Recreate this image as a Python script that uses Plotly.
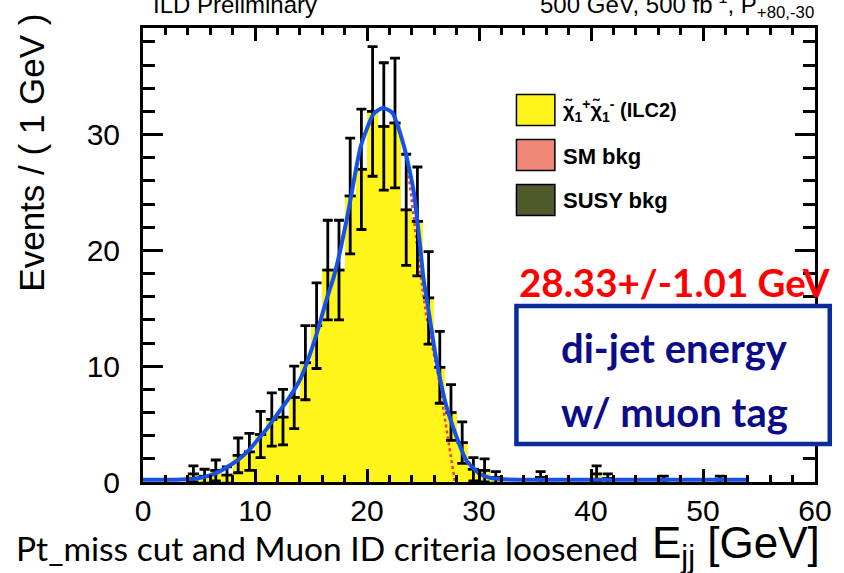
import plotly.graph_objects as go

# ---------------- data ----------------
bin_lo = list(range(0, 60))
counts = [0, 0, 0, 0, 0.7, 0.5, 1.0, 0.6, 2.3, 2.6,
          4.1, 5.4, 5.6, 7.3, 10.3, 13.5, 18.3, 18.3, 24.7, 27.0,
          32.0, 30.7, 31.0, 23.5, 22.5, 15.9, 9.9, 6.0, 3.4, 1.1,
          1.0, 0.4, 0, 0, 0, 0.4, 0, 0, 0, 0,
          0.7, 0.3, 0, 0, 0, 0, 0.2, 0, 0, 0,
          0, 0.2, 0, 0, 0, 0, 0, 0, 0, 0]
errors = [0, 0, 0, 0, 0.7, 0.6, 0.9, 0.7, 1.5, 1.6,
          2.0, 2.3, 2.4, 2.7, 3.2, 3.7, 4.3, 4.3, 5.0, 5.2,
          5.6, 5.5, 5.6, 4.8, 4.7, 4.0, 3.1, 2.4, 1.8, 1.0,
          1.0, 0.5, 0, 0, 0, 0.5, 0, 0, 0, 0,
          0.7, 0.4, 0, 0, 0, 0, 0.3, 0, 0, 0,
          0, 0.3, 0, 0, 0, 0, 0, 0, 0, 0]

fit_x = [0, 3, 4.2, 5.0, 5.9, 6.8, 7.7, 8.6, 9.5, 10.2, 10.9, 12.1, 13.0, 14.1,
         15.0, 15.6, 16.4, 17.0, 17.4, 18.3, 19.45, 20.6, 21.4, 22.25, 23.3,
         24.15, 24.75, 25.05, 25.35, 26.2, 27.1, 28.0, 28.85, 30.0, 31.2, 32.6, 34, 54]
fit_y = [0.2, 0.2, 0.25, 0.35, 0.55, 0.9, 1.4, 2.0, 2.8, 3.6, 4.4, 6.0, 7.2, 9.0,
         11.3, 13.1, 15.8, 17.6, 19.1, 23.2, 29.0, 31.8, 32.3, 31.9, 29.0,
         25.2, 20.3, 17.5, 15.7, 10.5, 6.5, 3.9, 1.9, 0.75, 0.32, 0.22, 0.2, 0.2]

edge_x = [23.6, 24.0, 24.4, 24.8, 25.3, 25.9, 26.4, 26.9, 27.3, 27.6, 27.85]
edge_y = [27.5, 24.5, 21.0, 17.8, 14.3, 11.4, 9.0, 5.8, 3.2, 1.2, 0.0]

legend_labels = ["χ̃<sub>1</sub><sup>+</sup>χ̃<sub>1</sub><sup>-</sup> (ILC2)", "SM bkg", "SUSY bkg"]
legend_sizes = [20, 22, 22]
legend_colors = ["#fff51a", "#f08877", "#4e5a2a"]

x_ticks = [0, 10, 20, 30, 40, 50, 60]
y_ticks = [0, 10, 20, 30]

# ---------------- geometry helpers (layout only) ----------------
W, H = 844, 573
L, R, T, B = 143, 825, 28, 482
def px(x):
    return (x - L) / (R - L)
def py(y):
    return (B - y) / (B - T)

fig = go.Figure()

centers = [b + 0.5 for b in bin_lo]
fig.add_trace(go.Bar(x=centers, y=counts, width=1.0,
                     marker=dict(color=legend_colors[0], line=dict(width=0)),
                     showlegend=False, hoverinfo="skip"))

fig.add_trace(go.Scatter(x=edge_x, y=edge_y, mode="lines",
                         line=dict(color="#ee3b3b", width=2.5, dash="dot"),
                         showlegend=False))

dx = [c for c, v in zip(centers, counts) if v > 0]
dy = [v for v in counts if v > 0]
de = [e for e, v in zip(errors, counts) if v > 0]
fig.add_trace(go.Scatter(x=dx, y=dy, mode="markers",
                         marker=dict(color="black", size=2),
                         error_x=dict(type="constant", value=0.5, width=0, thickness=2.8, color="black"),
                         error_y=dict(type="data", array=de, visible=True, width=5, thickness=2.8, color="black"),
                         showlegend=False))

fig.add_trace(go.Scatter(x=fit_x, y=fit_y, mode="lines",
                         line=dict(color="#1553e8", width=4, shape="spline", smoothing=0.6),
                         showlegend=False))

root_font = "Liberation Sans, Arial, sans-serif"

fig.update_layout(
    width=W, height=H,
    margin=dict(l=L, r=W - R, t=T, b=H - B),
    paper_bgcolor="white", plot_bgcolor="white",
    bargap=0,
    xaxis=dict(range=[0, 60], tickvals=x_ticks, ticks="inside", ticklen=13, tickwidth=2.5,
               tickcolor="black", showline=True, linewidth=3, linecolor="black", mirror="allticks",
               showgrid=False, zeroline=False,
               tickfont=dict(family=root_font, size=30, color="black"),
               minor=dict(dtick=2, ticks="inside", ticklen=7, tickwidth=2.5, tickcolor="black", showgrid=False)),
    yaxis=dict(range=[0, 39.2], tickvals=y_ticks, ticks="inside", ticklen=20, tickwidth=2.5,
               tickcolor="black", showline=True, linewidth=3, linecolor="black", mirror="allticks",
               showgrid=False, zeroline=False, ticklabelstandoff=14,
               tickfont=dict(family=root_font, size=30, color="black"),
               minor=dict(dtick=2, ticks="inside", ticklen=12, tickwidth=2.5, tickcolor="black", showgrid=False)),
)

ann = []
# y title
ann.append(dict(text="Events / ( 1 GeV )", x=px(29), y=py(153), xref="paper", yref="paper",
                xanchor="center", yanchor="middle",
                textangle=-90, showarrow=False, font=dict(family=root_font, size=35, color="black")))
# x title
ann.append(dict(text="E<sub>jj</sub> [GeV]", x=px(832), y=py(546), xref="paper", yref="paper",
                xanchor="right", yanchor="middle", showarrow=False,
                font=dict(family=root_font, size=44, color="black")))
# header
ann.append(dict(text="ILD Preliminary", x=px(151), y=py(4), xref="paper", yref="paper",
                xanchor="left", yanchor="middle", showarrow=False,
                font=dict(family=root_font, size=24, color="black")))
ann.append(dict(text="500 GeV, 500 fb<sup>-1</sup>, P<sub>+80,-30</sub>", x=px(544), y=py(5),
                xref="paper", yref="paper", xanchor="left", yanchor="middle", showarrow=False,
                font=dict(family=root_font, size=24, color="black")))
# legend
shapes = []
leg_y = [110, 155, 200]
for lab, col, yy, fs in zip(legend_labels, legend_colors, leg_y, legend_sizes):
    shapes.append(dict(type="rect", xref="paper", yref="paper",
                       x0=px(522), x1=px(561), y0=py(yy - 15.5), y1=py(yy + 15.5),
                       fillcolor=col, line=dict(color="black", width=1.5)))
    ann.append(dict(text=lab, x=px(567), y=py(yy + 1), xref="paper", yref="paper",
                    xanchor="left", yanchor="middle", showarrow=False,
                    font=dict(family=root_font, size=fs, color="black", weight="bold")))
# fit result
ann.append(dict(text="28.33+/-1.01 GeV", x=px(682), y=py(282), xref="paper", yref="paper",
                xanchor="center", yanchor="middle", showarrow=False,
                font=dict(family="Lato, sans-serif", size=38.5, color="#ff0000", weight="bold")))
# box
shapes.append(dict(type="rect", xref="paper", yref="paper",
                   x0=px(522), x1=px(840), y0=py(444), y1=py(306),
                   fillcolor="white", line=dict(color="#0b2b9c", width=4.5)))
ann.append(dict(text="di-jet energy", x=px(682), y=py(348), xref="paper", yref="paper",
                xanchor="center", yanchor="middle", showarrow=False,
                font=dict(family="Lato, sans-serif", size=40, color="#0c0c8a", weight="bold")))
ann.append(dict(text="w/ muon tag", x=px(682), y=py(412), xref="paper", yref="paper",
                xanchor="center", yanchor="middle", showarrow=False,
                font=dict(family="Lato, sans-serif", size=40, color="#0c0c8a", weight="bold")))
# bottom note
ann.append(dict(text="Pt_miss cut and Muon ID criteria loosened", x=px(12), y=py(548),
                xref="paper", yref="paper", xanchor="left", yanchor="middle", showarrow=False,
                font=dict(family="Lato, sans-serif", size=33.5, color="black")))

fig.update_layout(annotations=ann, shapes=shapes)
fig.write_html("out.html")
